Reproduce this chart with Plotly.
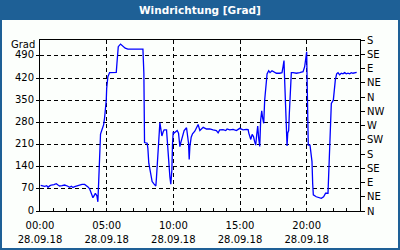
import pandas as pd
import plotly.graph_objects as go

# ---- data ----
hours = [0.05, 0.25, 0.35, 0.50, 0.60, 0.75, 0.85, 1.05, 1.22, 1.35, 1.47, 1.65, 1.85, 2.05,
         2.22, 2.35, 2.47, 2.60, 2.72, 2.85, 2.97, 3.15, 3.35, 3.50, 3.60, 3.72, 3.85, 3.97,
         4.08, 4.15, 4.27, 4.34, 4.39, 4.47, 4.54, 4.64, 4.77, 4.84, 4.92, 4.97, 5.00, 5.09,
         5.22, 5.72, 5.77, 5.87, 6.04, 6.25, 6.39, 6.59, 7.72, 7.79, 7.80, 7.84, 8.04, 8.09,
         8.16, 8.29, 8.41, 8.56, 8.69, 8.74, 8.81, 8.91, 8.99, 9.06, 9.14, 9.24, 9.31, 9.49,
         9.56, 9.64, 9.74, 9.81, 9.89, 9.94, 9.99, 10.06, 10.19, 10.29, 10.39, 10.49, 10.56,
         10.66, 10.81, 10.99, 11.06, 11.14, 11.19, 11.24, 11.34, 11.44, 11.61, 11.74, 11.86,
         11.99, 12.11, 12.24, 12.49, 12.73, 12.98, 13.23, 13.36, 13.48, 13.73, 13.93, 14.03,
         14.23, 14.48, 14.73, 14.98, 15.23, 15.48, 15.61, 15.66, 15.73, 15.81, 15.91, 16.01,
         16.10, 16.18, 16.25, 16.33, 16.40, 16.48, 16.55, 16.63, 16.70, 16.78, 16.85, 16.95,
         17.03, 17.15, 17.25, 17.40, 17.60, 17.73, 17.98, 18.15, 18.23, 18.30, 18.33, 18.40,
         18.48, 18.53, 18.58, 18.65, 18.70, 18.78, 18.85, 18.98, 19.23, 19.48, 19.73, 19.85,
         19.93, 20.00, 20.03, 20.07, 20.12, 20.25, 20.32, 20.40, 20.45, 20.50, 20.72, 20.97,
         21.10, 21.27, 21.42, 21.60, 21.67, 21.75, 21.80, 21.85, 22.00, 22.05, 22.15, 22.25,
         22.35, 22.47, 22.60, 22.72, 22.85, 22.97, 23.10, 23.22, 23.35, 23.47, 23.60, 23.75]

direction = [81, 80, 78, 80, 75, 80, 82, 83, 86, 82, 79, 80, 82, 79,
             75, 78, 74, 77, 79, 81, 83, 84, 84, 80, 76, 70, 56, 42,
             50, 56, 48, 29, 80, 187, 243, 256, 272, 293, 319, 350, 387, 424,
             437, 438, 466, 519, 527, 518, 514, 511, 511, 435, 293, 216, 214, 198,
             151, 119, 93, 85, 79, 108, 171, 224, 279, 261, 237, 250, 256, 256,
             214, 140, 108, 85, 129, 214, 250, 246, 250, 254, 246, 203, 216,
             235, 254, 263, 240, 214, 163, 203, 233, 244, 252, 264, 273,
             254, 259, 264, 259, 259, 256, 254, 247, 256, 257, 254, 259,
             256, 258, 254, 261, 256, 258, 257, 246, 235, 226, 242, 235,
             219, 208, 240, 268, 230, 204, 287, 316, 293, 277, 350, 398,
             433, 443, 437, 443, 437, 435, 435, 437, 456, 475, 435, 345,
             256, 205, 246, 254, 309, 382, 437, 437, 435, 437, 440, 456,
             479, 503, 424, 309, 208, 208, 182, 156, 87, 51, 45, 43,
             40, 45, 56, 56, 129, 214, 266, 340, 350, 382, 414, 433,
             437, 430, 435, 433, 437, 433, 435, 433, 437, 435, 437, 438]

day = "2018-09-28"
x_tick_hours = [0, 5, 10, 15, 20]
x_time_text = ["00:00", "05:00", "10:00", "15:00", "20:00"]
x_date_text = ["28.09.18", "28.09.18", "28.09.18", "28.09.18", "28.09.18"]
y_tick_vals = [0, 70, 140, 210, 280, 350, 420, 490]
compass_vals = [0, 45, 90, 135, 180, 225, 270, 315, 360, 405, 450, 495, 540]
compass_text = ["N", "NE", "E", "SE", "S", "SW", "W", "NW", "N", "NE", "E", "SE", "S"]
title_text = "Windrichtung [Grad]"
unit_text = "Grad"

# ---- figure ----
base = pd.Timestamp(day)
times = base + pd.to_timedelta(hours, unit="h")
tick_times = [base + pd.Timedelta(hours=h) for h in x_tick_hours]
x_range = [base, base + pd.Timedelta(hours=24)]

BLUE_BAR = "#1E6096"
BG = "#FCFFFC"
FONT = "DejaVu Sans"

fig = go.Figure()
fig.add_trace(go.Scatter(x=times, y=direction, mode="lines",
                         line=dict(color="#0000FF", width=1.3), showlegend=False,
                         hoverinfo="skip"))
# same series bound to the secondary (compass / date) axes, drawn invisibly
fig.add_trace(go.Scatter(x=times, y=direction, mode="lines", xaxis="x2", yaxis="y2",
                         line=dict(color="rgba(0,0,0,0)", width=0), showlegend=False,
                         hoverinfo="skip"))

L, R, T, B = 40, 40, 40, 39
W, H = 400, 250
pw, ph = W - L - R, H - T - B

def px_x(p):
    return (p - L) / pw

def px_y(p):
    return (H - B - p) / ph

fig.update_layout(
    width=W, height=H,
    margin=dict(l=L, r=R, t=T, b=B, pad=0, autoexpand=False),
    paper_bgcolor=BG, plot_bgcolor=BG,
    font=dict(family=FONT, size=10, color="black"),
    xaxis=dict(
        type="date", range=x_range,
        tickvals=tick_times, ticktext=x_time_text,
        showgrid=True, gridcolor="black", gridwidth=1, griddash="4px,3px",
        showline=True, linecolor="black", linewidth=1, mirror=True,
        ticks="inside", ticklen=3, tickcolor="black",
        ticklabelstandoff=5, automargin=False,
        minor=dict(dtick=3600000, ticks="inside", ticklen=3, tickcolor="black", showgrid=False),
        zeroline=False, fixedrange=True,
    ),
    xaxis2=dict(
        type="date", range=x_range, overlaying="x", side="bottom", anchor="y",
        tickvals=tick_times, ticktext=x_date_text,
        showgrid=False, showline=False, ticks="", ticklabelstandoff=21, automargin=False,
        zeroline=False, fixedrange=True,
    ),
    yaxis=dict(
        range=[0, 540], tickvals=y_tick_vals,
        showgrid=True, gridcolor="black", gridwidth=1, griddash="4px,3px",
        showline=True, linecolor="black", linewidth=1, mirror=True,
        ticks="outside", ticklen=3, tickcolor="black", ticklabelshift=-1, automargin=False,
        zeroline=False, fixedrange=True,
    ),
    yaxis2=dict(
        overlaying="y", side="right", anchor="x2", range=[0, 540],
        tickvals=compass_vals, ticktext=compass_text,
        showgrid=False, showline=True, linecolor="black", linewidth=1,
        ticks="outside", ticklen=4, tickcolor="black", automargin=False,
        zeroline=False, fixedrange=True,
    ),
    shapes=[
        dict(type="rect", xref="paper", yref="paper",
             x0=px_x(-2), x1=px_x(W + 2), y0=px_y(20), y1=px_y(-2),
             fillcolor=BLUE_BAR, line=dict(width=0), layer="above"),
        dict(type="rect", xref="paper", yref="paper",
             x0=px_x(1), x1=px_x(W - 1), y0=px_y(H - 1), y1=px_y(10),
             fillcolor="rgba(0,0,0,0)", line=dict(color=BLUE_BAR, width=2), layer="above"),
    ],
    annotations=[
        dict(text="<b>" + title_text + "</b>", xref="paper", yref="paper",
             x=0.5, y=px_y(10), xanchor="center", yanchor="middle", showarrow=False,
             font=dict(family=FONT, size=10.5, color="white")),
        dict(text=unit_text, xref="paper", yref="y", x=0, y=527,
             xanchor="right", yanchor="middle", xshift=-3, showarrow=False,
             font=dict(family=FONT, size=10, color="black")),
    ],
)

fig.write_html("out.html")
